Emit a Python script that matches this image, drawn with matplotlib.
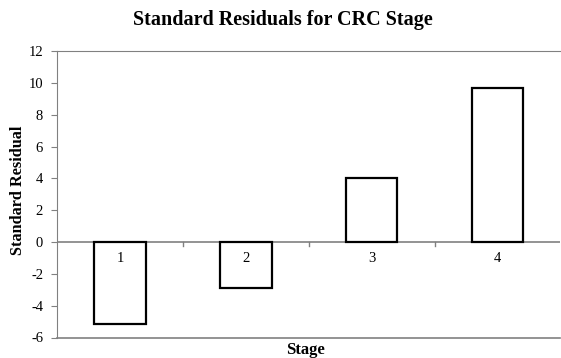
import matplotlib
matplotlib.use("Agg")
import matplotlib.pyplot as plt

stages = ["1", "2", "3", "4"]
residuals = [-5.15, -2.9, 3.99, 9.68]
yticks = [-6, -4, -2, 0, 2, 4, 6, 8, 10, 12]

plt.rcParams['font.family'] = ['Liberation Serif', 'DejaVu Serif']

fig = plt.figure(figsize=(5.61, 3.58), dpi=100)
ax = fig.add_axes([57/561, 1 - 337.5/358, 1 - 57/561 - 0.001, (337.5 - 51)/358])

x = list(range(len(stages)))
ax.bar(x, residuals, width=0.41, color="white", edgecolor="black", linewidth=1.6, zorder=3)

ax.set_xlim(-0.5, 3.5)
ax.set_ylim(-6, 12)
ax.set_yticks(yticks)
ax.set_yticklabels([str(v) for v in yticks], fontsize=10.5)

grey = "#808080"
for s in ["left", "top"]:
    ax.spines[s].set_color(grey)
ax.spines["top"].set_visible(True)
ax.spines["right"].set_visible(False)
ax.spines["bottom"].set_visible(False)
ax.axhline(-6, color=grey, lw=1.2, clip_on=False, zorder=1)
ax.axhline(0, color=grey, lw=1.2, zorder=2)
ax.tick_params(axis="y", colors=grey, labelcolor="black", length=4.5, pad=5.5, direction="out")

ax.set_xticks([])
ax.tick_params(axis="x", length=0)
for i, s in enumerate(stages):
    ax.text(i, -0.6, s, ha="center", va="top", fontsize=10.5, zorder=4)
for b in [0.5, 1.5, 2.5]:
    ax.plot([b, b], [0, -0.22], color=grey, lw=1.0, zorder=2)

fig.text(0.505, 0.945, "Standard Residuals for CRC Stage", ha="center", va="center",
         fontsize=14.5, fontweight="bold")
fig.text(0.545, 0.022, "Stage", ha="center", va="center", fontsize=12, fontweight="bold")
fig.text(0.032, 0.469, "Standard Residual", ha="center", va="center", rotation=90,
         fontsize=11.7, fontweight="bold")

fig.savefig("out.png", dpi=100)
